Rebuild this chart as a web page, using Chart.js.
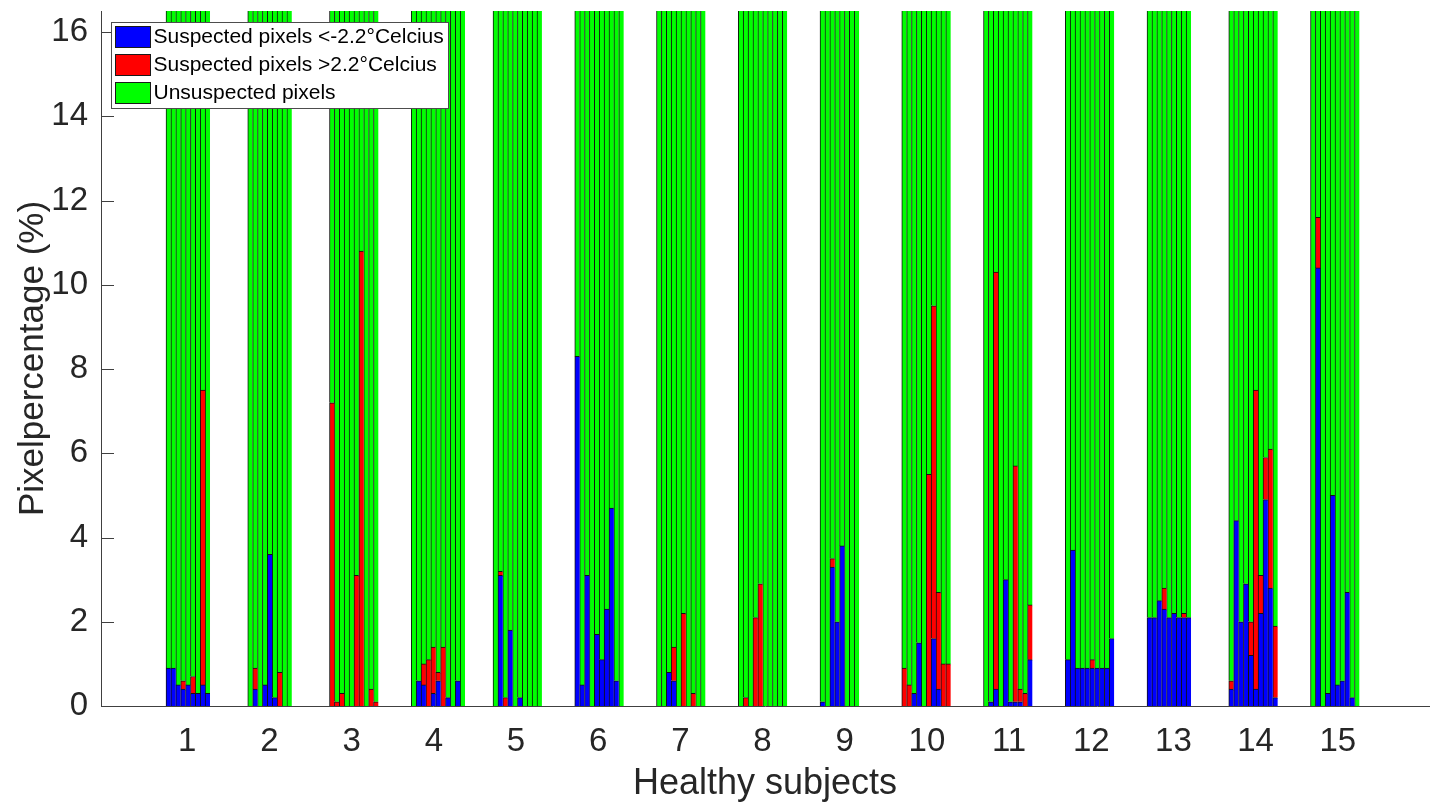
<!DOCTYPE html>
<html>
<head>
<meta charset="utf-8">
<title>Pixel percentage per healthy subject</title>
<script src="https://cdn.jsdelivr.net/npm/chart.js@4.4.1/dist/chart.umd.min.js"></script>
<style>
    html, body { margin: 0; padding: 0; background: #fff; }
    #wrap { width: 1435px; height: 807px; position: relative; }
</style>
</head>
<body>
<div id="wrap"><canvas id="pixelChart"></canvas></div>
<script>
// --- data ---
const subjects = [1, 2, 3, 4, 5, 6, 7, 8, 9, 10, 11, 12, 13, 14, 15];
const seriesLabels = ['Suspected pixels <-2.2°Celcius', 'Suspected pixels >2.2°Celcius', 'Unsuspected pixels'];
const seriesColors = ['#0000ff', '#ff0000', '#00ff00'];
const yTicks = [0, 2, 4, 6, 8, 10, 12, 14, 16];

// one list per subject, one value per image (percentage of pixels)
const coldPct = [
    [0.9, 0.9, 0.5, 0.4, 0.5, 0.3, 0.3, 0.5, 0.3],
    [0, 0.4, 0, 0.5, 3.6, 0.2, 0, 0, 0],
    [0, 0, 0, 0, 0, 0, 0, 0, 0, 0],
    [0, 0.6, 0.5, 0, 0.3, 0.6, 0, 0.2, 0, 0.6, 0],
    [0, 3.1, 0, 1.8, 0, 0.2, 0, 0, 0, 0],
    [8.3, 0.5, 3.1, 0, 1.7, 1.1, 2.3, 4.7, 0.6, 0],
    [0, 0, 0.8, 0.6, 0, 0, 0, 0, 0, 0],
    [0, 0, 0, 0, 0, 0, 0, 0, 0, 0],
    [0.1, 0, 3.3, 2.0, 3.8, 0, 0, 0],
    [0, 0, 0.3, 1.5, 0, 0, 1.6, 0.4, 0, 0],
    [0, 0.1, 0.4, 0, 3.0, 0.1, 0.1, 0.1, 0, 1.1],
    [1.1, 3.7, 0.9, 0.9, 0.9, 0.9, 0.9, 0.9, 0.9, 1.6],
    [2.1, 2.1, 2.5, 2.3, 2.1, 2.2, 2.1, 2.1, 2.1],
    [0.4, 4.4, 2.0, 2.9, 1.2, 0.4, 2.2, 4.9, 2.8, 0.2],
    [0, 10.4, 0, 0.3, 5.0, 0.5, 0.6, 2.7, 0.2, 0]
];
const hotPct = [
    [0, 0, 0, 0.2, 0, 0.4, 0, 7.0, 0],
    [0, 0.5, 0, 0, 0, 0, 0.8, 0, 0],
    [7.2, 0.1, 0.3, 0, 0, 3.1, 10.8, 0, 0.4, 0.1],
    [0, 0, 0.5, 1.1, 1.1, 0.2, 1.4, 0, 0, 0, 0],
    [0, 0.1, 0.2, 0, 0, 0, 0, 0, 0, 0],
    [0, 0, 0, 0, 0, 0, 0, 0, 0, 0],
    [0, 0, 0, 0.8, 0, 2.2, 0, 0.3, 0, 0],
    [0, 0.2, 0, 2.1, 2.9, 0, 0, 0, 0, 0],
    [0, 0, 0.2, 0, 0, 0, 0, 0],
    [0.9, 0.5, 0, 0, 0, 5.5, 7.9, 2.3, 1.0, 1.0],
    [0, 0, 9.9, 0, 0, 0, 5.6, 0.3, 0.3, 1.3],
    [0, 0, 0, 0, 0, 0.2, 0, 0, 0, 0],
    [0, 0, 0, 0.5, 0, 0, 0, 0.1, 0],
    [0.2, 0, 0, 0, 0.8, 7.1, 0.9, 1.0, 3.3, 1.7],
    [0, 1.2, 0, 0, 0, 0, 0, 0, 0, 0]
];

// --- layout ---
const BAR_STEP = 0.0595;      // width of one image bar, in subject units
const GROUP_START = 0.741;    // left edge of the first subject's bars
const GROUP_PITCH = 0.9948;   // distance between the left edges of two subjects
const AXIS_COLOR = '#404040';
const TEXT_COLOR = '#262626';
const FONT = '"Liberation Sans", Arial, Helvetica, sans-serif';

const barX = (g, k) => GROUP_START + g * GROUP_PITCH + (k + 0.5) * BAR_STEP;

const buildPoints = (valueOf) => {
    const pts = [];
    subjects.forEach((s, g) => {
        coldPct[g].forEach((_, k) => {
            const v = valueOf(g, k);
            if (v > 0) pts.push({x: barX(g, k), y: v});
        });
    });
    return pts;
};

const coldPoints = buildPoints((g, k) => coldPct[g][k]);
const hotPoints = buildPoints((g, k) => hotPct[g][k]);
const restPoints = buildPoints((g, k) => 100 - coldPct[g][k] - hotPct[g][k]);

const barStyle = {
    borderColor: '#111',
    borderWidth: {top: 1, left: 1, right: 0, bottom: 0},
    barPercentage: 1,
    categoryPercentage: 1
};

const datasets = [coldPoints, hotPoints, restPoints].map((pts, i) => ({
    label: seriesLabels[i],
    data: pts,
    backgroundColor: seriesColors[i],
    ...barStyle
}));

// inward tick marks on the y axis, like the original figure
const inwardTicks = {
    id: 'inwardTicks',
    afterDraw(chart) {
        const {ctx, chartArea, scales: {y}} = chart;
        ctx.save();
        ctx.strokeStyle = AXIS_COLOR;
        ctx.lineWidth = 1;
        y.ticks.forEach(t => {
            const py = Math.round(y.getPixelForValue(t.value)) + 0.5;
            ctx.beginPath();
            ctx.moveTo(chartArea.left, py);
            ctx.lineTo(chartArea.left + 13, py);
            ctx.stroke();
        });
        ctx.restore();
    }
};

// boxed legend inside the plot, top left
const boxedLegend = {
    id: 'boxedLegend',
    afterDraw(chart) {
        const {ctx, chartArea} = chart;
        const sets = chart.data.datasets;
        ctx.save();
        ctx.font = '21px ' + FONT;
        const textW = Math.max(...sets.map(d => ctx.measureText(d.label).width));
        const left = Math.round(chartArea.left + 10);
        const top = Math.round(chartArea.top + 11);
        const rowH = 28;
        const w = Math.round(textW + 47);
        const h = sets.length * rowH + 2;
        ctx.fillStyle = '#fff';
        ctx.fillRect(left, top, w, h);
        ctx.strokeStyle = '#4d4d4d';
        ctx.lineWidth = 1;
        ctx.strokeRect(left + 0.5, top + 0.5, w, h);
        sets.forEach((d, i) => {
            const cy = top + 14.5 + i * rowH;
            ctx.fillStyle = d.backgroundColor;
            ctx.fillRect(left + 4, Math.round(cy - 10.5), 35, 21);
            ctx.strokeStyle = '#1a1a1a';
            ctx.strokeRect(left + 4.5, Math.round(cy - 10.5) + 0.5, 35, 21);
            ctx.fillStyle = '#000';
            ctx.textBaseline = 'middle';
            ctx.textAlign = 'left';
            ctx.fillText(d.label, left + 42.5, cy + 1);
        });
        ctx.restore();
    }
};

new Chart(document.getElementById('pixelChart').getContext('2d'), {
    type: 'bar',
    data: {datasets: datasets},
    plugins: [inwardTicks, boxedLegend],
    options: {
        responsive: true,
        maintainAspectRatio: false,
        animation: false,
        layout: {padding: {top: 11, right: 6, bottom: 0, left: 0}},
        plugins: {
            legend: {display: false},
            tooltip: {enabled: false}
        },
        scales: {
            x: {
                type: 'linear',
                min: -0.05,
                max: 16.11,
                offset: false,
                stacked: true,
                grid: {display: false, drawTicks: false, offset: false},
                border: {display: true, color: AXIS_COLOR, width: 1},
                afterBuildTicks: s => { s.ticks = subjects.map(v => ({value: v})); },
                afterFit: s => { s.height = 101; s.paddingLeft = 0; s.paddingRight = 0; },
                ticks: {
                    color: TEXT_COLOR,
                    font: {family: FONT, size: 33},
                    padding: 16,
                    maxRotation: 0,
                    autoSkip: false
                },
                title: {
                    display: true,
                    text: 'Healthy subjects',
                    color: TEXT_COLOR,
                    font: {family: FONT, size: 36},
                    padding: {top: 0, bottom: 1}
                }
            },
            y: {
                min: 0,
                max: 16.5,
                stacked: true,
                grid: {display: false, drawTicks: false},
                border: {display: true, color: AXIS_COLOR, width: 1},
                afterBuildTicks: s => { s.ticks = yTicks.map(v => ({value: v})); },
                afterFit: s => { s.width = 101; s.paddingTop = 0; s.paddingBottom = 0; },
                ticks: {
                    color: TEXT_COLOR,
                    font: {family: FONT, size: 33},
                    padding: 13
                },
                title: {
                    display: true,
                    text: 'Pixelpercentage (%)',
                    color: TEXT_COLOR,
                    font: {family: FONT, size: 35},
                    padding: {top: 12, bottom: 0}
                }
            }
        }
    }
});
</script>
</body>
</html>
